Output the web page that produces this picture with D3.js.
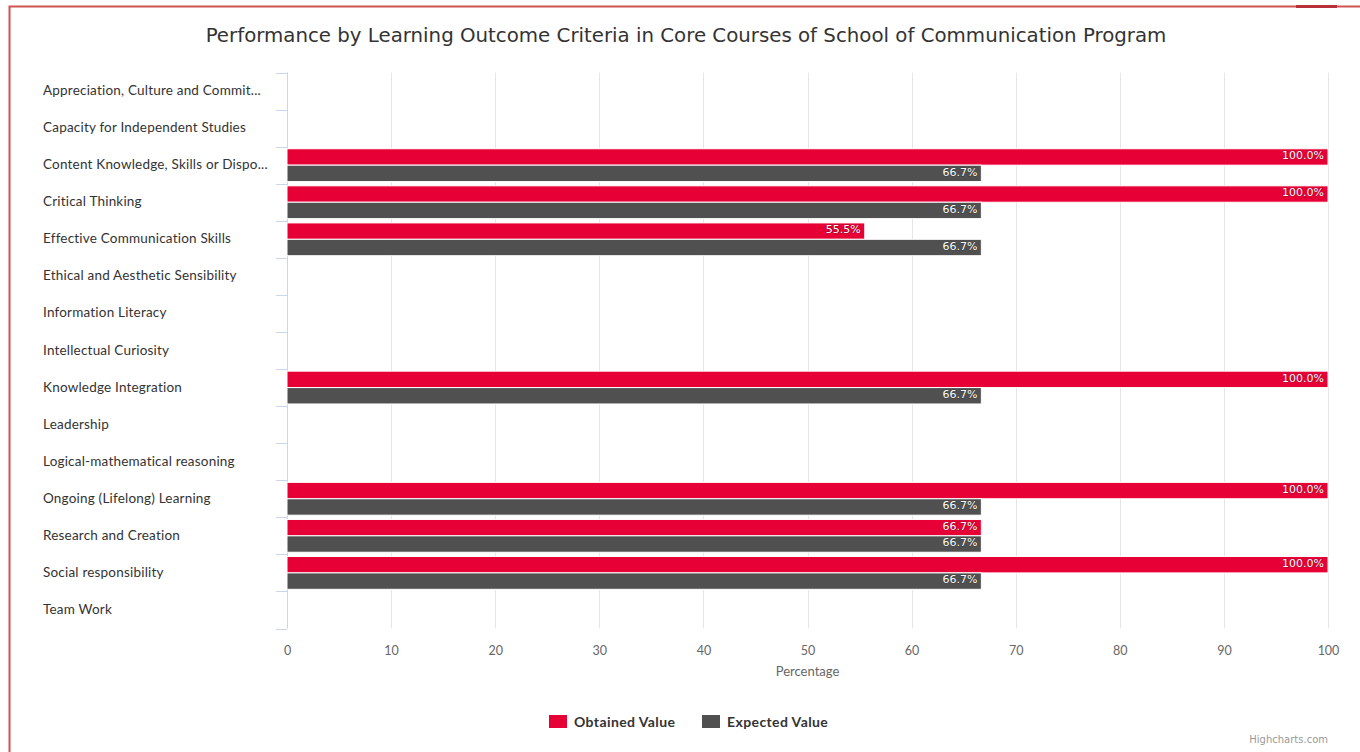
<!DOCTYPE html>
<html>
<head>
<meta charset="utf-8">
<script src="https://cdnjs.cloudflare.com/ajax/libs/d3/7.8.5/d3.min.js"></script>
<style>
  html, body { margin: 0; padding: 0; background: #fff; }
  svg { display: block; }
</style>
</head>
<body>
<div id="container"></div>
<script>
const categories = [
  'Appreciation, Culture and Commit...',
  'Capacity for Independent Studies',
  'Content Knowledge, Skills or Dispo...',
  'Critical Thinking',
  'Effective Communication Skills',
  'Ethical and Aesthetic Sensibility',
  'Information Literacy',
  'Intellectual Curiosity',
  'Knowledge Integration',
  'Leadership',
  'Logical-mathematical reasoning',
  'Ongoing (Lifelong) Learning',
  'Research and Creation',
  'Social responsibility',
  'Team Work'
];
const obtained = [null, null, 100, 100, 55.5, null, null, null, 100, null, null, 100, 66.7, 100, null];
const expected = [null, null, 66.7, 66.7, 66.7, null, null, null, 66.7, null, null, 66.7, 66.7, 66.7, null];
const xTicks = [0, 10, 20, 30, 40, 50, 60, 70, 80, 90, 100];
const seriesNames = ['Obtained Value', 'Expected Value'];
const seriesColors = ['#e60036', '#505050'];

const width = 1360, height = 752;
const plot = { left: 287, right: 1328, top: 72.5, bottom: 628.5 };

const svg = d3.select('#container').append('svg')
  .attr('width', width).attr('height', height);

// outer frame
svg.append('rect')
  .attr('x', 9.5).attr('y', 6.5).attr('width', 1400).attr('height', 800)
  .attr('fill', 'none').attr('stroke', '#d05252').attr('stroke-width', 2);
svg.append('rect')
  .attr('x', 1296).attr('y', 5).attr('width', 41).attr('height', 3)
  .attr('fill', '#b8303a');

const x = d3.scaleLinear().domain([0, 100]).range([plot.left, plot.right]);
const y = d3.scaleBand().domain(categories).range([plot.top, plot.bottom]);
const inner = d3.scaleBand().domain([0, 1]).range([0, y.bandwidth()]).paddingOuter(0.13);

// title
svg.append('text')
  .attr('x', 686).attr('y', 42)
  .attr('text-anchor', 'middle')
  .style('font-family', '"DejaVu Sans", sans-serif')
  .style('font-size', '19.8px')
  .attr('fill', '#333')
  .text('Performance by Learning Outcome Criteria in Core Courses of School of Communication Program');

// vertical grid lines
svg.append('g')
  .selectAll('line').data(xTicks).join('line')
  .attr('x1', d => Math.round(x(d)) + 0.5).attr('x2', d => Math.round(x(d)) + 0.5)
  .attr('y1', plot.top).attr('y2', plot.bottom)
  .attr('stroke', '#e6e6e6').attr('stroke-width', 1);

// x axis labels
const xAxis = svg.append('g')
  .attr('transform', `translate(0,${plot.bottom})`)
  .call(d3.axisBottom(x).tickValues(xTicks).tickSize(0).tickPadding(18));
xAxis.select('.domain').remove();
xAxis.selectAll('text')
  .style('font-family', 'Lato, sans-serif').style('font-size', '12.5px').attr('fill', '#666');

svg.append('text')
  .attr('x', (plot.left + plot.right) / 2).attr('y', 676)
  .attr('text-anchor', 'middle')
  .style('font-family', 'Lato, sans-serif').style('font-size', '13px')
  .attr('fill', '#666').text('Percentage');

// category axis
const boundaries = categories.map(c => y(c)).concat([plot.bottom]);
svg.append('g').selectAll('line').data(boundaries).join('line')
  .attr('x1', plot.left - 11).attr('x2', plot.left)
  .attr('y1', d => Math.round(d) + 0.5).attr('y2', d => Math.round(d) + 0.5)
  .attr('stroke', '#ccd6eb');
svg.append('line')
  .attr('x1', plot.left + 0.5).attr('x2', plot.left + 0.5)
  .attr('y1', plot.top).attr('y2', plot.bottom)
  .attr('stroke', '#ccd6eb');

svg.append('g').selectAll('text').data(categories).join('text')
  .attr('x', 43).attr('y', d => y(d) + y.bandwidth() / 2 + 4)
  .style('font-family', 'Lato, sans-serif').style('font-size', '13.5px')
  .style('letter-spacing', '0.2px')
  .attr('fill', '#333').text(d => d);

// bars
[obtained, expected].forEach((vals, si) => {
  const g = svg.append('g');
  const pts = categories.map((c, i) => ({ c, v: vals[i] })).filter(d => d.v !== null);
  g.selectAll('rect').data(pts).join('rect')
    .attr('x', x(0)).attr('y', d => y(d.c) + inner(si))
    .attr('width', d => x(d.v) - x(0)).attr('height', inner.bandwidth())
    .attr('fill', seriesColors[si]).attr('stroke', '#fff').attr('stroke-width', 1);
  g.selectAll('text').data(pts).join('text')
    .attr('x', d => x(d.v) - 4).attr('y', d => y(d.c) + inner(si) + 10.5)
    .attr('text-anchor', 'end')
    .style('font-family', '"DejaVu Sans", sans-serif').style('font-size', '11px')
    .attr('fill', '#fff')
    .attr('stroke', '#000').attr('stroke-width', 1).attr('stroke-opacity', 0.3)
    .attr('paint-order', 'stroke')
    .text(d => d.v.toFixed(1) + '%');
});

// legend
const legend = svg.append('g').attr('transform', 'translate(549,715)');
const items = legend.selectAll('g').data(seriesNames).join('g')
  .attr('transform', (d, i) => `translate(${i * 153},0)`);
items.append('rect').attr('width', 18).attr('height', 13)
  .attr('fill', (d, i) => seriesColors[i]);
items.append('text').attr('x', 25).attr('y', 12)
  .style('font-family', 'Lato, sans-serif').style('font-size', '14px').style('font-weight', 'bold')
  .style('letter-spacing', '0.4px')
  .attr('fill', '#333').text(d => d);

// credits
svg.append('text')
  .attr('x', 1328).attr('y', 743).attr('text-anchor', 'end')
  .style('font-family', '"DejaVu Sans", sans-serif').style('font-size', '10px')
  .attr('fill', '#999').text('Highcharts.com');
</script>
</body>
</html>
